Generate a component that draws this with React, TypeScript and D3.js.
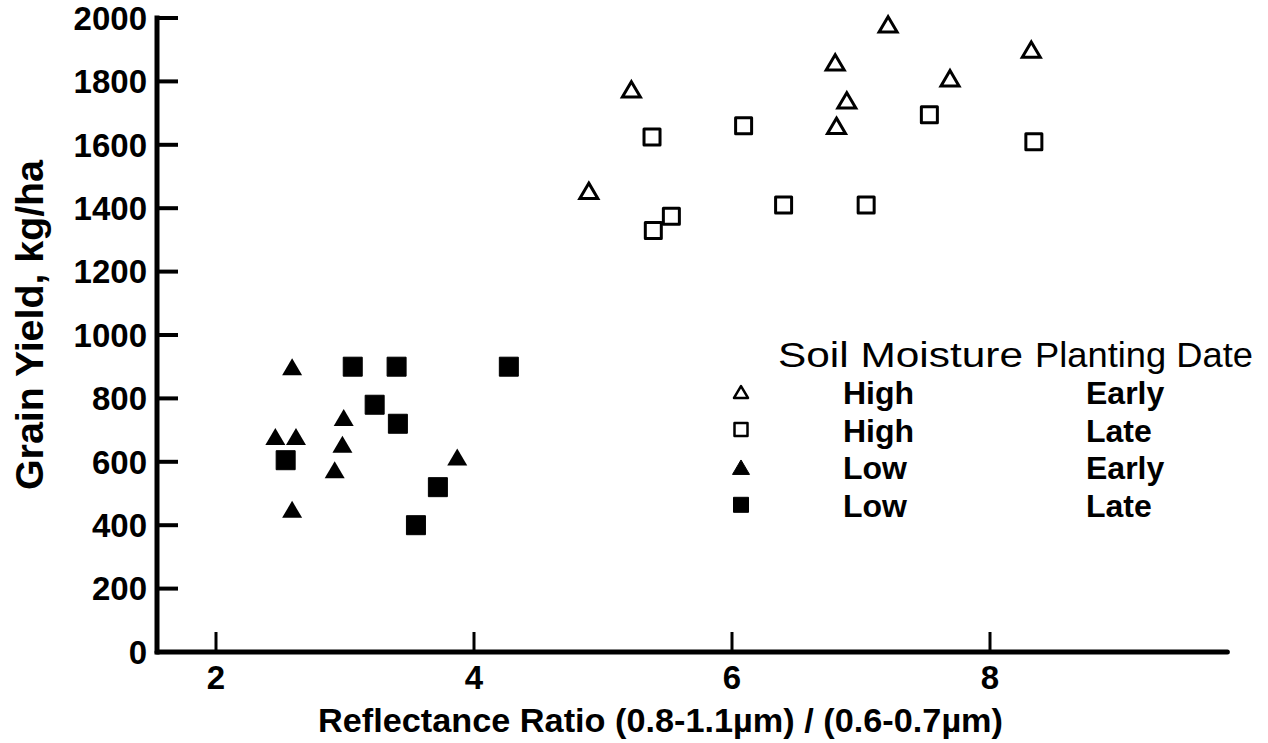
import React from "react";
import * as d3 from "d3";

// Reflectance ratio vs. grain yield, grouped by soil moisture / planting date
const highEarly: [number, number][] = [
  [7.21, 1980], [8.32, 1900], [6.8, 1860], [7.69, 1810],
  [5.22, 1775], [6.89, 1740], [6.81, 1660], [4.89, 1455],
];
const highLate: [number, number][] = [
  [7.53, 1695], [8.34, 1610], [5.38, 1625], [6.09, 1660],
  [6.4, 1410], [7.04, 1410], [5.53, 1375], [5.39, 1330],
];
const lowEarly: [number, number][] = [
  [2.59, 900], [2.99, 740], [2.98, 655], [2.46, 680],
  [2.62, 680], [2.92, 575], [2.59, 450], [3.87, 615],
];
const lowLate: [number, number][] = [
  [3.06, 900], [3.4, 900], [4.27, 900], [3.23, 780],
  [3.41, 720], [2.54, 605], [3.72, 520], [3.55, 400],
];

const xTicks = [2, 4, 6, 8];
const yTicks = [0, 200, 400, 600, 800, 1000, 1200, 1400, 1600, 1800, 2000];

const legendRows = [
  { shape: "triangle", filled: false, moisture: "High", date: "Early" },
  { shape: "square", filled: false, moisture: "High", date: "Late" },
  { shape: "triangle", filled: true, moisture: "Low", date: "Early" },
  { shape: "square", filled: true, moisture: "Low", date: "Late" },
];

const FONT = "'Liberation Sans', Arial, Helvetica, sans-serif";

// Triangle centred on its bounding box, size = base width
const boxTriangle = {
  draw(ctx: any, size: number) {
    const w = size;
    const h = w * 0.85;
    ctx.moveTo(0, -h / 2);
    ctx.lineTo(w / 2, h / 2);
    ctx.lineTo(-w / 2, h / 2);
    ctx.closePath();
  },
};

export default function App() {
  const width = 1268;
  const height = 743;

  const x = d3.scaleLinear().domain([2, 8]).range([216, 990]);
  const y = d3.scaleLinear().domain([0, 2000]).range([652, 18]);

  const x0 = x.invert(157);
  const xEnd = 9.84;

  const tri = (w: number) => d3.symbol().type(boxTriangle as any).size(w)()!;
  const sq = (w: number) => d3.symbol().type(d3.symbolSquare).size(w * w)()!;

  const bigOpenTri = tri(18);
  const bigFilledTri = tri(20);
  const bigOpenSq = sq(16);
  const bigFilledSq = sq(19);

  return (
    <svg width={width} height={height} style={{ display: "block", position: "absolute", left: 0, top: 0 }}>
      <rect width={width} height={height} fill="#fff" />

      {/* axes */}
      <g stroke="#000" strokeLinecap="round" fill="none">
        <line x1={x(x0)} x2={x(xEnd)} y1={y(0)} y2={y(0)} strokeWidth={5} />
        <line x1={x(x0)} x2={x(x0)} y1={y(0)} y2={y(2000)} strokeWidth={5} strokeLinecap="square" />
        {yTicks.filter((t) => t > 0).map((t) => (
          <line key={t} x1={x(x0)} x2={x(x0) + 21} y1={y(t)} y2={y(t)} strokeWidth={4} strokeLinecap="butt" />
        ))}
        {xTicks.map((t) => (
          <line key={t} x1={x(t)} x2={x(t)} y1={y(0)} y2={y(0) - 20} strokeWidth={3} strokeLinecap="butt" />
        ))}
      </g>

      {/* tick labels */}
      <g fontFamily={FONT} fontWeight="bold" fontSize={33} fill="#000">
        {yTicks.map((t) => (
          <text key={t} x={147} y={y(t)} dy="0.36em" textAnchor="end">{t}</text>
        ))}
        {xTicks.map((t) => (
          <text key={t} x={x(t)} y={689} textAnchor="middle">{t}</text>
        ))}
      </g>

      {/* axis titles */}
      <text x={318} y={732} fontFamily={FONT} fontWeight="bold" fontSize={33}
        textLength={685} lengthAdjust="spacingAndGlyphs">
        Reflectance Ratio (0.8-1.1µm) / (0.6-0.7µm)
      </text>
      <text transform="translate(43,325) rotate(-90)" textAnchor="middle" fontFamily={FONT}
        fontWeight="bold" fontSize={39} textLength={330} lengthAdjust="spacingAndGlyphs">
        Grain Yield,  kg/ha
      </text>

      {/* points */}
      <g>
        {highEarly.map((d, i) => (
          <path key={"he" + i} d={bigOpenTri} transform={`translate(${x(d[0])},${y(d[1])})`}
            fill="#fff" stroke="#000" strokeWidth={3} strokeLinejoin="miter" />
        ))}
        {highLate.map((d, i) => (
          <path key={"hl" + i} d={bigOpenSq} transform={`translate(${x(d[0])},${y(d[1])})`}
            fill="#fff" stroke="#000" strokeWidth={3} strokeLinejoin="round" />
        ))}
        {lowEarly.map((d, i) => (
          <path key={"le" + i} d={bigFilledTri} transform={`translate(${x(d[0])},${y(d[1])})`} fill="#000" />
        ))}
        {lowLate.map((d, i) => (
          <path key={"ll" + i} d={bigFilledSq} transform={`translate(${x(d[0])},${y(d[1])})`}
            fill="#000" stroke="#000" strokeWidth={1} strokeLinejoin="round" />
        ))}
      </g>

      {/* legend */}
      <g fontFamily={FONT} fill="#000">
        <text x={778} y={367} fontSize={35} textLength={245} lengthAdjust="spacingAndGlyphs">Soil Moisture</text>
        <text x={1035} y={367} fontSize={35} textLength={218} lengthAdjust="spacingAndGlyphs">Planting Date</text>
        {legendRows.map((r, i) => {
          const base = 404 + i * 37.6;
          const cy = base - 12;
          const shape = r.shape === "triangle"
            ? tri(r.filled ? 17 : 14)
            : sq(r.filled ? 15 : 13);
          return (
            <g key={i}>
              <path d={shape} transform={`translate(741,${cy})`}
                fill={r.filled ? "#000" : "#fff"} stroke="#000"
                strokeWidth={r.filled ? 1 : 2.5} strokeLinejoin="round" />
              <text x={843} y={base} fontSize={32} fontWeight="bold">{r.moisture}</text>
              <text x={1086} y={base} fontSize={32} fontWeight="bold">{r.date}</text>
            </g>
          );
        })}
      </g>
    </svg>
  );
}
